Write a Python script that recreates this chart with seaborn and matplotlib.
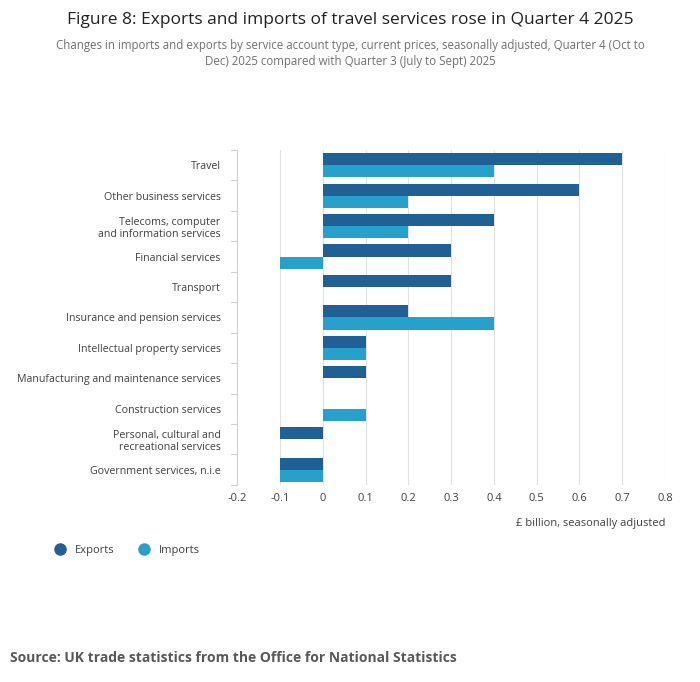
import matplotlib
matplotlib.use("Agg")
import matplotlib.pyplot as plt
import pandas as pd
import seaborn as sns
from matplotlib.lines import Line2D

# ── DATA ─────────────────────────────────────────────
categories = ["Travel", "Other business services", "Telecoms, computer\nand information services",
              "Financial services", "Transport", "Insurance and pension services",
              "Intellectual property services", "Manufacturing and maintenance services",
              "Construction services", "Personal, cultural and\nrecreational services",
              "Government services, n.i.e"]
exports = [0.7, 0.6, 0.4, 0.3, 0.3, 0.2, 0.1, 0.1, 0.0, -0.1, -0.1]
imports = [0.4, 0.2, 0.2, -0.1, 0.0, 0.4, 0.1, 0.0, 0.1, 0.0, -0.1]
x_ticks = [-0.2, -0.1, 0, 0.1, 0.2, 0.3, 0.4, 0.5, 0.6, 0.7, 0.8]
x_labels = ["-0.2", "-0.1", "0", "0.1", "0.2", "0.3", "0.4", "0.5", "0.6", "0.7", "0.8"]

df = pd.DataFrame({"cat": categories * 2,
                   "value": exports + imports,
                   "series": ["Exports"] * len(categories) + ["Imports"] * len(categories)})

sns.set_style("white")
plt.rcParams["font.family"] = ["Open Sans", "DejaVu Sans"]
colors = {"Exports": "#206095", "Imports": "#27a0cc"}
text_c = "#414042"

fig = plt.figure(figsize=(7, 6.82), dpi=100)
ax = fig.add_axes([0.339, 0.289, 0.611, 0.491])
sns.barplot(data=df, y="cat", x="value", hue="series", palette=colors, orient="h",
            width=0.8, ax=ax, legend=False, saturation=1, linewidth=0)

ax.set_xlim(-0.2, 0.8)
ax.set_xticks(x_ticks)
ax.set_xticklabels(x_labels, fontsize=8, color=text_c)
ax.xaxis.grid(True, color="#e0e0e0", linewidth=0.8)
ax.set_axisbelow(True)
ax.set_ylim(len(categories) - 0.5, -0.5)
ax.tick_params(axis="y", length=0, labelsize=7.7, labelcolor=text_c, pad=12)
ax.tick_params(axis="x", length=0, pad=6)
for s in ["top", "right", "bottom"]:
    ax.spines[s].set_visible(False)
ax.spines["left"].set_color("#d0d0d0")
# category separators on the left
for i in range(len(categories) + 1):
    ax.plot([-0.215, -0.2], [i - 0.5, i - 0.5], color="#d0d0d0", lw=0.8, clip_on=False)
ax.set_ylabel("")
ax.set_xlabel("£ billion, seasonally adjusted", fontsize=8, color=text_c, loc="right",
              labelpad=10)

fig.text(0.5, 0.965, "Figure 8: Exports and imports of travel services rose in Quarter 4 2025",
         ha="center", fontsize=12.5, color="#222222")
fig.text(0.5, 0.905, "Changes in imports and exports by service account type, current prices, seasonally adjusted, Quarter 4 (Oct to\nDec) 2025 compared with Quarter 3 (July to Sept) 2025",
         ha="center", fontsize=8.3, color="#707070", linespacing=1.3)

handles = [Line2D([], [], marker="o", ls="", color=colors[k], markersize=8) for k in colors]
fig.legend(handles, list(colors), loc="lower left", bbox_to_anchor=(0.055, 0.17), ncol=2,
           frameon=False, fontsize=8, handletextpad=0.4, columnspacing=1.6,
           labelcolor=text_c)

fig.text(0.014, 0.03, "Source: UK trade statistics from the Office for National Statistics",
         fontsize=10, fontweight="bold", color="#595959")

fig.savefig("out.png", dpi=100)
